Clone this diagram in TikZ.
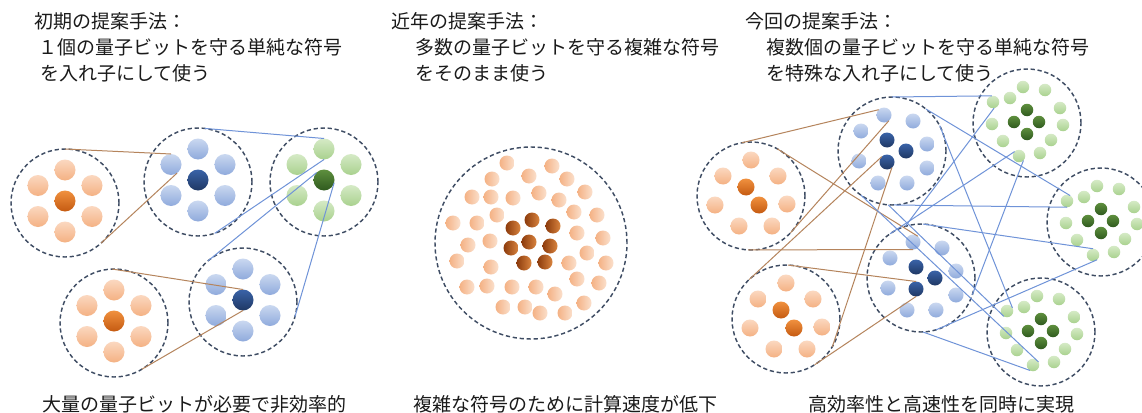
\documentclass[tikz,border=0pt]{standalone}
\usepackage{fontspec}
\setmainfont{Noto Sans CJK JP}
\definecolor{ringc}{HTML}{3E4C63}
\definecolor{oLt}{HTML}{FBD8C0}\definecolor{oLb}{HTML}{F4B183}
\definecolor{oDt}{HTML}{F0913F}\definecolor{oDb}{HTML}{C55A11}
\definecolor{bLt}{HTML}{CAD8F0}\definecolor{bLb}{HTML}{8FAADC}
\definecolor{bDt}{HTML}{3A63A8}\definecolor{bDb}{HTML}{1F3864}
\definecolor{gLt}{HTML}{D5EAC6}\definecolor{gLb}{HTML}{A9D18E}
\definecolor{gDt}{HTML}{5E8F3E}\definecolor{gDb}{HTML}{2F5A1E}
\definecolor{mLl}{HTML}{F4B184}\definecolor{mLr}{HTML}{FBE0CC}
\definecolor{mDl}{HTML}{8C3B0C}\definecolor{mDr}{HTML}{D9843F}
\definecolor{lnbrown}{HTML}{B5845C}
\definecolor{lnblue}{HTML}{6F93D8}
\definecolor{txt}{HTML}{1A1A1A}
\newcommand\hexset[4]{%
  \begin{scope}[shift={#2}]
    \node[#4] (#1c) at (0,-2) {};
    \node[#3] (#1t) at (0,-33) {};
    \node[#3] (#1ul) at (-27,-17.5) {};
    \node[#3] (#1ur) at (27,-17.5) {};
    \node[#3] (#1ll) at (-27,13.5) {};
    \node[#3] (#1lr) at (27,13.5) {};
    \node[#3] (#1b) at (0,29) {};
  \end{scope}}
\newcommand\orangeset[2]{%
  \begin{scope}[shift={#2}]
    \node[ol=17pt] (#1a) at (0,-36) {};
    \node[ol=17pt] (#1b) at (-28,-20) {};
    \node[ol=17pt] (#1c) at (27,-20) {};
    \node[ol=17pt] (#1d) at (-36,9) {};
    \node[ol=17pt] (#1e) at (36,8) {};
    \node[ol=17pt] (#1f) at (-12,30) {};
    \node[ol=17pt] (#1g) at (21,30) {};
    \node[od=17pt] (#1h) at (-5,-9) {};
    \node[od=17pt] (#1i) at (8,9) {};
  \end{scope}}
\newcommand\blueset[2]{%
  \begin{scope}[shift={#2}]
    \node[bl=15pt] (#1a) at (-8,-36) {};
    \node[bl=15pt] (#1b) at (21,-30) {};
    \node[bl=15pt] (#1c) at (-31,-20) {};
    \node[bl=15pt] (#1d) at (35,-7) {};
    \node[bl=15pt] (#1e) at (-33,10) {};
    \node[bl=15pt] (#1f) at (35,17) {};
    \node[bl=15pt] (#1g) at (-14,32) {};
    \node[bl=15pt] (#1h) at (15,32) {};
    \node[bd=15pt] (#1i) at (-5,-11) {};
    \node[bd=15pt] (#1j) at (14,0) {};
    \node[bd=15pt] (#1k) at (-5,11) {};
  \end{scope}}
\newcommand\greenset[2]{%
  \begin{scope}[shift={#2}]
    \node[gl=12.5pt] (#1a) at (-34,-21) {};
    \node[gl=12.5pt] (#1b) at (-17,-25) {};
    \node[gl=12.5pt] (#1c) at (-4,-36) {};
    \node[gl=12.5pt] (#1d) at (18,-33) {};
    \node[gl=12.5pt] (#1e) at (33,-15) {};
    \node[gl=12.5pt] (#1f) at (-35,1) {};
    \node[gl=12.5pt] (#1g) at (36,2) {};
    \node[gl=12.5pt] (#1h) at (-24,18) {};
    \node[gl=12.5pt] (#1i) at (24,17) {};
    \node[gl=12.5pt] (#1j) at (-8,33) {};
    \node[gl=12.5pt] (#1k) at (13,30) {};
    \node[gd=12.5pt] (#1l) at (0,-13) {};
    \node[gd=12.5pt] (#1m) at (-13,-1) {};
    \node[gd=12.5pt] (#1n) at (12,-1) {};
    \node[gd=12.5pt] (#1o) at (0,11) {};
  \end{scope}}
\begin{document}
\begin{tikzpicture}[x=1pt,y=-1pt,
  qring/.style={circle,draw=ringc,line width=1.45pt,dash pattern=on 4.2pt off 2.8pt,minimum size=108pt,inner sep=0pt,outer sep=0pt},
  ball/.style={circle,inner sep=0pt,outer sep=0pt,minimum size=#1},
  ol/.style={ball=#1,top color=oLt,bottom color=oLb},
  od/.style={ball=#1,top color=oDt,bottom color=oDb},
  bl/.style={ball=#1,top color=bLt,bottom color=bLb},
  bd/.style={ball=#1,top color=bDt,bottom color=bDb},
  gl/.style={ball=#1,top color=gLt,bottom color=gLb},
  gd/.style={ball=#1,top color=gDt,bottom color=gDb},
  ml/.style={ball=15pt,left color=mLl,right color=mLr},
  md/.style={ball=15pt,left color=mDl,right color=mDr},
  brn/.style={draw=lnbrown,line width=1pt},
  blu/.style={draw=lnblue,line width=1pt},
  lbl/.style={text=txt,font=\fontsize{19}{22}\selectfont,inner sep=0pt,anchor=base west}
]
\useasboundingbox (0,0) rectangle (1142,412);
\fill[white] (0,0) rectangle (1142,412);

% ---------- texts ----------
\node[lbl] (t1a) at (34,29) {初期の提案手法：};
\node[lbl] (t1b) at (38,55) {１個の量子ビットを守る単純な符号};
\node[lbl] (t1c) at (40,80) {を入れ子にして使う};
\node[lbl] (t2a) at (391,29) {近年の提案手法：};
\node[lbl] (t2b) at (415,55) {多数の量子ビットを守る複雑な符号};
\node[lbl] (t2c) at (415,80) {をそのまま使う};
\node[lbl] (t3a) at (745,29) {今回の提案手法：};
\node[lbl] (t3b) at (766,55) {複数個の量子ビットを守る単純な符号};
\node[lbl] (t3c) at (766,80) {を特殊な入れ子にして使う};
\node[lbl] (f1) at (42,411) {大量の量子ビットが必要で非効率的};
\node[lbl] (f2) at (413,411) {複雑な符号のために計算速度が低下};
\node[lbl] (f3) at (808,411) {高効率性と高速性を同時に実現};

% ---------- panel 1 ----------
\node[qring] (O1) at (65,203) {};
\node[qring] (B1) at (198,182) {};
\node[qring] (G1) at (324,182) {};
\node[qring] (B2) at (243,302) {};
\node[qring] (O2) at (114,323) {};
\hexset{O1}{(65,203)}{ol=21pt}{od=21pt}
\hexset{B1}{(198,182)}{bl=21pt}{bd=21pt}
\hexset{G1}{(324,182)}{gl=21pt}{gd=21pt}
\hexset{B2}{(243,302)}{bl=21pt}{bd=21pt}
\hexset{O2}{(114,323)}{ol=21pt}{od=21pt}
\draw[brn] (O1.90) -- (B1ul.90);
\draw[brn] (O1.-48) -- (B1ul.-55);
\draw[blu] (B1.83) -- (G1t.90);
\draw[blu] (B1.-72) -- (G1t.-90);
\draw[blu] (B2.130) -- (G1c.135);
\draw[blu] (B2.-16) -- (G1c.-15);
\draw[brn] (O2.92) -- (B2c.90);
\draw[brn] (O2.-59) -- (B2c.-90);

% ---------- panel 2 ----------
\node[qring,minimum size=192pt] (M) at (531,243) {};
\foreach \x/\y [count=\i] in {507/163,552/166,492/179,529/176,567/179,472/197,491/197,513/198,539/193,559/200,585/192,453/223,477/223,497/215,574/212,597/215,468/245,490/241,577/233,603/238,457/261,491/267,587/253,569/263,606/263,467/287,487/286,512/287,536/287,577/279,599/283,555/294,503/307,525/307,540/313,565/313,584/303}
  \node[ml] (ml\i) at (\x,\y) {};
\foreach \x/\y [count=\i] in {513/228,532/220,553/226,511/248,529/242,550/246,524/263,545/262}
  \node[md] (md\i) at (\x,\y) {};

% ---------- panel 3 ----------
\node[qring] (OA) at (751,196) {};
\node[qring] (OB) at (786,319) {};
\node[qring] (BA) at (892,151) {};
\node[qring] (BB) at (921,278) {};
\node[qring] (GA) at (1027,123) {};
\node[qring] (GB) at (1101,222) {};
\node[qring] (GC) at (1041,332) {};
\orangeset{OA}{(751,196)}
\orangeset{OB}{(786,319)}
\blueset{BA}{(892,151)}
\blueset{BB}{(921,278)}
\greenset{GA}{(1027,123)}
\greenset{GB}{(1101,222)}
\greenset{GC}{(1041,332)}
\draw[brn] (OA.100) -- (BAa.135);
\draw[brn] (OA.-43) -- (BAa.-50);
\draw[brn] (OA.61) -- (BBa.50);
\draw[brn] (OA.-93) -- (BBa.-90);
\draw[brn] (OB.133) -- (BAk.135);
\draw[brn] (OB.-31) -- (BAk.-50);
\draw[brn] (OB.88) -- (BBk.90);
\draw[brn] (OB.-58) -- (BBk.-90);
\draw[blu] (BA.90) -- (GAa.100);
\draw[blu] (BA.51) -- (GBa.60);
\draw[blu] (BA.28) -- (GCa.30);
\draw[blu] (BA.-94) -- (GCa.-120);
\draw[blu] (BA.-88) -- (GBa.-90);
\draw[blu] (BA.-125) -- (GCj.30);
\draw[blu] (BB.125) -- (GAj.135);
\draw[blu] (BB.107) -- (GAa.-80);
\draw[blu] (BB.-18) -- (GAj.-45);
\draw[blu] (BB.88) -- (GBj.90);
\draw[blu] (BB.-74) -- (GBj.-50);
\draw[blu] (BB.-88) -- (GCj.-120);
\end{tikzpicture}
\end{document}
